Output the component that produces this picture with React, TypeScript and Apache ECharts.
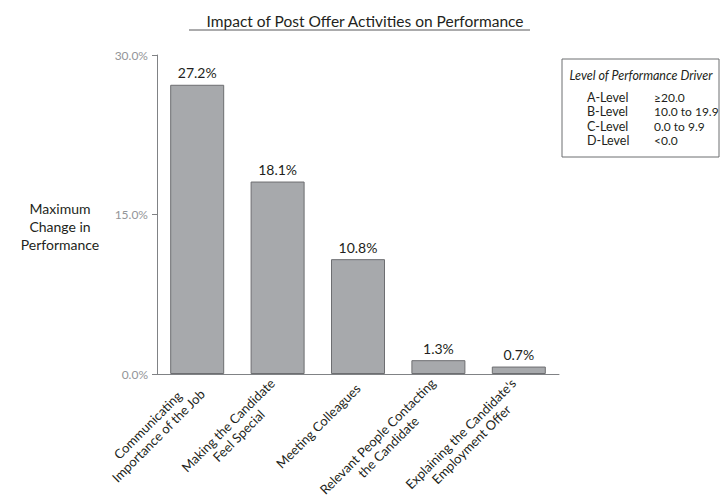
import React, { useEffect, useRef } from "react";
import * as echarts from "echarts";

const categories = [
  "Communicating\nImportance of the Job",
  "Making the Candidate\nFeel Special",
  "Meeting Colleagues",
  "Relevant People Contacting\nthe Candidate",
  "Explaining the Candidate's\nEmployment Offer",
];
const values = [27.2, 18.1, 10.8, 1.3, 0.7];
const yTicks = { min: 0, max: 30, interval: 15 };
const titleText = "Impact of Post Offer Activities on Performance";
const yAxisTitle = "Maximum\nChange in\nPerformance";
const legendTitle = "Level of Performance Driver";
const legendLevels = ["A-Level", "B-Level", "C-Level", "D-Level"];
const legendRanges = ["≥20.0", "10.0 to 19.9", "0.0 to 9.9", "<0.0"];

const FONT = "Lato, 'Open Sans', sans-serif";
const DARK = "#231f20";

export default function App() {
  const ref = useRef<HTMLDivElement>(null);
  useEffect(() => {
    if (!ref.current) return;
    const chart = echarts.init(ref.current, undefined, { renderer: "svg" });
    const legendChildren: any[] = [
      {
        type: "rect",
        shape: { x: 562, y: 59, width: 157, height: 98 },
        style: { fill: "#fff", stroke: "#6d6e71", lineWidth: 1 },
      },
      {
        type: "text",
        x: 641,
        y: 75,
        style: {
          text: legendTitle,
          fontFamily: FONT,
          fontStyle: "italic",
          fontSize: 12.5,
          fill: DARK,
          align: "center",
          verticalAlign: "middle",
        },
      },
    ];
    legendLevels.forEach((lv, i) => {
      legendChildren.push({
        type: "text",
        x: 587,
        y: 97 + i * 14.5,
        style: { text: lv, fontFamily: FONT, fontSize: 12.5, fill: DARK, verticalAlign: "middle" },
      });
      legendChildren.push({
        type: "text",
        x: 654,
        y: 97 + i * 14.5,
        style: { text: legendRanges[i], fontFamily: FONT, fontSize: 12, fill: DARK, verticalAlign: "middle" },
      });
    });

    chart.setOption({
      animation: false,
      backgroundColor: "#fff",
      title: {
        text: titleText,
        left: 360,
        textAlign: "center",
        top: 8,
        textStyle: { fontFamily: FONT, fontSize: 15.5, fontWeight: "normal", color: DARK },
      },
      grid: {
        left: 157,
        top: 55,
        width: 402,
        height: 319,
        containLabel: false,
        outerBoundsMode: "none",
      },
      xAxis: {
        type: "category",
        data: categories,
        axisLine: { lineStyle: { color: "#808285", width: 1 } },
        axisTick: { show: false },
        axisLabel: {
          interval: 0,
          rotate: 45,
          margin: 12,
          color: DARK,
          fontFamily: FONT,
          fontSize: 13,
          lineHeight: 15,
          hideOverlap: false,
          formatter: (v: string) =>
            v
              .split("\n")
              .map((l) => `{c|${l}}`)
              .join("\n"),
          rich: {
            c: { align: "center", color: DARK, fontFamily: FONT, fontSize: 13, lineHeight: 15 },
          },
        },
      },
      yAxis: {
        type: "value",
        min: yTicks.min,
        max: yTicks.max,
        interval: yTicks.interval,
        splitLine: { show: false },
        axisLine: { show: true, lineStyle: { color: "#808285", width: 1 } },
        axisTick: { show: true, length: 5, lineStyle: { color: "#808285" } },
        axisLabel: {
          color: "#939598",
          fontFamily: FONT,
          fontSize: 12,
          margin: 9,
          formatter: (v: number) => v.toFixed(1) + "%",
        },
      },
      series: [
        {
          type: "bar",
          data: values,
          barWidth: 54,
          itemStyle: { color: "#a7a9ac", borderColor: "#6d6e71", borderWidth: 1 },
          label: {
            show: true,
            position: "top",
            distance: 5,
            color: DARK,
            fontFamily: FONT,
            fontSize: 14,
            formatter: (p: any) => p.value.toFixed(1) + "%",
          },
        },
      ],
      graphic: [
        {
          type: "line",
          shape: { x1: 189, y1: 30, x2: 530, y2: 30 },
          style: { stroke: "#58595b", lineWidth: 1 },
        },
        {
          type: "text",
          x: 60,
          y: 226,
          style: {
            text: yAxisTitle,
            fontFamily: FONT,
            fontSize: 14,
            lineHeight: 18,
            fill: DARK,
            align: "center",
            verticalAlign: "middle",
          },
        },
        { type: "group", children: legendChildren },
      ],
    });
    return () => chart.dispose();
  }, []);
  return (
    <div
      ref={ref}
      style={{ position: "fixed", left: 0, top: 0, width: 722, height: 496, background: "#fff" }}
    />
  );
}
